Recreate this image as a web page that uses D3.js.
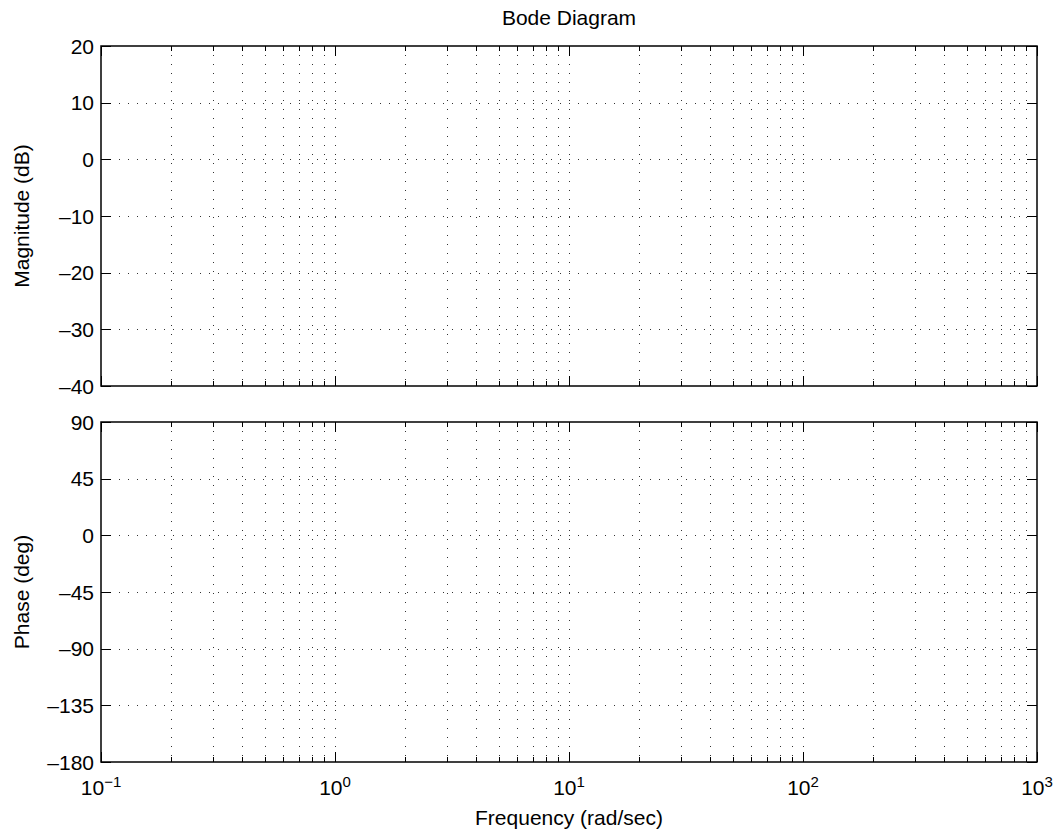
<!DOCTYPE html>
<html>
<head>
<meta charset="utf-8">
<script src="https://cdn.jsdelivr.net/npm/d3@7"></script>
<style>
  body { margin: 0; background: #fff; }
  text { font-family: "Liberation Sans", Arial, Helvetica, sans-serif; fill: #000; }
  .frame { fill: none; stroke: #000; stroke-width: 1.5; }
  .grid { stroke: #333; stroke-width: 1; stroke-dasharray: 1,8; fill: none; }
  .tick { stroke: #000; stroke-width: 1; }
</style>
</head>
<body>
<script>
const title = "Bode Diagram";
const xLabel = "Frequency (rad/sec)";
const decades = [0.1, 1, 10, 100, 1000];
const decadeExponents = [-1, 0, 1, 2, 3];
const magTicks = [-40, -30, -20, -10, 0, 10, 20];
const phaseTicks = [-180, -135, -90, -45, 0, 45, 90];
const panels = [
  { label: "Magnitude (dB)", ticks: magTicks },
  { label: "Phase (deg)", ticks: phaseTicks }
];

const dimensions = {
  width: 1057,
  height: 839,
  margin: { left: 101, right: 20, top: 46 },
  panelHeight: 340,
  panelGap: 36
};
const { width, height, margin, panelHeight, panelGap } = dimensions;

const svg = d3.select("body").append("svg").attr("width", width).attr("height", height);

const xScale = d3.scaleLog()
  .domain([decades[0], decades[decades.length - 1]])
  .range([margin.left, width - margin.right]);

// minor ticks 2..9 in each decade
const minorTicks = [];
decades.slice(0, -1).forEach(d => {
  for (let k = 2; k <= 9; k++) minorTicks.push(d * k);
});
const allXTicks = decades.concat(minorTicks);

const fontSize = 21;
const x0 = margin.left, x1 = width - margin.right;

panels.forEach((p, i) => {
  const top = margin.top + i * (panelHeight + panelGap);
  const bottom = top + panelHeight;
  const yScale = d3.scaleLinear()
    .domain(d3.extent(p.ticks))
    .range([bottom, top]);

  const g = svg.append("g");

  // dotted grid
  g.append("g").selectAll("line")
    .data(p.ticks.slice(1, -1))
    .join("line")
    .attr("class", "grid")
    .attr("x1", x0).attr("x2", x1)
    .attr("y1", d => Math.round(yScale(d)) + 0.5)
    .attr("y2", d => Math.round(yScale(d)) + 0.5);

  g.append("g").selectAll("line")
    .data(allXTicks.filter(d => d > decades[0] && d < decades[decades.length - 1]))
    .join("line")
    .attr("class", "grid")
    .attr("x1", d => Math.round(xScale(d)) + 0.5)
    .attr("x2", d => Math.round(xScale(d)) + 0.5)
    .attr("y1", top).attr("y2", bottom);

  // y ticks both sides
  g.append("g").selectAll("path")
    .data(p.ticks)
    .join("path")
    .attr("class", "tick")
    .attr("d", d => {
      const y = Math.round(yScale(d)) + 0.5;
      return `M${x0},${y}h10M${x1},${y}h-10`;
    });

  // x ticks top and bottom
  g.append("g").selectAll("path")
    .data(allXTicks)
    .join("path")
    .attr("class", "tick")
    .attr("d", d => {
      const x = Math.round(xScale(d)) + 0.5;
      const len = decades.includes(d) ? 10 : 5;
      return `M${x},${top}v${len}M${x},${bottom}v${-len}`;
    });

  g.append("rect")
    .attr("class", "frame")
    .attr("x", x0).attr("y", top)
    .attr("width", x1 - x0).attr("height", panelHeight);

  // y tick labels
  g.append("g").selectAll("text")
    .data(p.ticks)
    .join("text")
    .attr("x", x0 - 7)
    .attr("y", d => yScale(d))
    .attr("dy", "0.36em")
    .attr("text-anchor", "end")
    .style("font-size", fontSize + "px")
    .text(d => d < 0 ? "\u2013" + Math.abs(d) : d);

  // y label
  g.append("text")
    .attr("transform", `translate(29,${(top + bottom) / 2}) rotate(-90)`)
    .attr("text-anchor", "middle")
    .style("font-size", fontSize + "px")
    .text(p.label);

  if (i === panels.length - 1) {
    const labels = g.append("g").selectAll("text")
      .data(decades)
      .join("text")
      .attr("x", d => xScale(d))
      .attr("y", bottom + 33)
      .attr("text-anchor", "middle")
      .style("font-size", fontSize + "px");
    labels.append("tspan").text("10");
    labels.append("tspan")
      .attr("dy", "-0.55em")
      .style("font-size", "15px")
      .text((d, j) => decadeExponents[j] < 0 ? "\u2212" + Math.abs(decadeExponents[j]) : decadeExponents[j]);

    g.append("text")
      .attr("x", (x0 + x1) / 2)
      .attr("y", bottom + 63)
      .attr("text-anchor", "middle")
      .style("font-size", fontSize + "px")
      .text(xLabel);
  }
});

svg.append("text")
  .attr("x", (x0 + x1) / 2)
  .attr("y", 25)
  .attr("text-anchor", "middle")
  .style("font-size", fontSize + "px")
  .text(title);
</script>
</body>
</html>
